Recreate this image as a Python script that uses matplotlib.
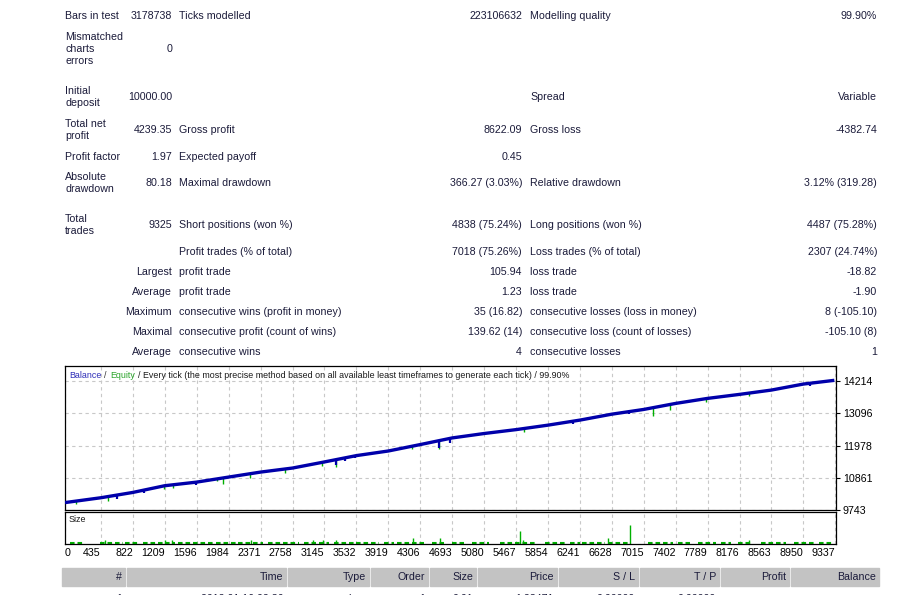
import matplotlib
matplotlib.use('Agg')
import matplotlib.pyplot as plt
from matplotlib.patches import Rectangle
import numpy as np

W, H = 913, 595
FS = 7.7
TXT = '#1b1b3a'

plt.rcParams['font.family'] = ['Liberation Sans', 'DejaVu Sans']

# summary table (left / middle / right column groups)
rowY = [16, 49, 97, 130, 157, 183, 225, 252, 272, 292, 312, 332, 352]
colA_label = ['Bars in test', 'Mismatched\ncharts\nerrors', 'Initial\ndeposit',
              'Total net\nprofit', 'Profit factor', 'Absolute\ndrawdown',
              'Total\ntrades', '', '', '', '', '', '']
colA_value = ['3178738', '0', '10000.00', '4239.35', '1.97', '80.18', '9325',
              '', 'Largest', 'Average', 'Maximum', 'Maximal', 'Average']
colB_label = ['Ticks modelled', '', '', 'Gross profit', 'Expected payoff',
              'Maximal drawdown', 'Short positions (won %)',
              'Profit trades (% of total)', 'profit trade', 'profit trade',
              'consecutive wins (profit in money)',
              'consecutive profit (count of wins)', 'consecutive wins']
colB_value = ['223106632', '', '', '8622.09', '0.45', '366.27 (3.03%)',
              '4838 (75.24%)', '7018 (75.26%)', '105.94', '1.23',
              '35 (16.82)', '139.62 (14)', '4']
colC_label = ['Modelling quality', '', 'Spread', 'Gross loss', '',
              'Relative drawdown', 'Long positions (won %)',
              'Loss trades (% of total)', 'loss trade', 'loss trade',
              'consecutive losses (loss in money)',
              'consecutive loss (count of losses)', 'consecutive losses']
colC_value = ['99.90%', '', 'Variable', '-4382.74', '', '3.12% (319.28)',
              '4487 (75.28%)', '2307 (24.74%)', '-18.82', '-1.90',
              '8 (-105.10)', '-105.10 (8)', '1']

# balance curve, read at the grid lines
balTrade = [0, 435, 822, 1209, 1596, 1984, 2371, 2758, 3145, 3532, 3919, 4306,
            4693, 5080, 5467, 5854, 6241, 6628, 7015, 7402, 7789, 8176, 8563,
            8950, 9325]
balValue = [10000, 10168, 10352, 10585, 10710, 10885, 11058, 11198, 11410,
            11629, 11789, 12012, 12242, 12395, 12530, 12685, 12860, 13066,
            13230, 13439, 13613, 13752, 13902, 14110, 14239]
eqDipTrade = [133, 519, 1196, 1304, 1848, 1920, 2246, 2669, 3116, 3285, 4203,
              4529, 5568, 7126, 7331, 7766, 8285]
eqDipDepth = [90, 170, 120, 100, 90, 200, 140, 150, 120, 240, 110, 270, 110,
              280, 180, 130, 110]
balDipTrade = [628, 954, 1582, 3285, 3394, 3514, 4529, 4662, 6159, 6836, 9034]
balDipDepth = [150, 90, 80, 200, 120, 90, 250, 150, 100, 90, 100]

yTicks = [9743, 10861, 11978, 13096, 14214]
xTicks = [0, 435, 822, 1209, 1596, 1984, 2371, 2758, 3145, 3532, 3919, 4306,
          4693, 5080, 5467, 5854, 6241, 6628, 7015, 7402, 7789, 8176, 8563,
          8950, 9337]

# lot size chart: runs of 0.01 trades and the larger ones
sizeRunStart = [60, 425, 730, 943, 1217, 1369, 1552, 1826, 2100, 2466, 2892,
                3075, 3257, 3531, 3866, 4019, 4445, 4689, 4932, 5267, 5815,
                6120, 6272, 6577, 7063, 7429, 7672, 7947, 8160, 8434, 8830,
                9134]
sizeRunEnd = [243, 700, 882, 1187, 1339, 1522, 1796, 2070, 2405, 2831, 3044,
              3196, 3501, 3805, 3988, 4353, 4597, 4841, 5145, 5693, 6059, 6242,
              6546, 6820, 7368, 7581, 7886, 8069, 8312, 8738, 9104, 9317]
bigTrade = [483, 1208, 1292, 2258, 3007, 3128, 3285, 4215, 4541, 5519, 5555,
            6582, 6848, 8285]
bigSize = [0.02, 0.02, 0.02, 0.02, 0.02, 0.02, 0.02, 0.03, 0.03, 0.06, 0.02,
           0.03, 0.09, 0.02]

# trade list header and first row
headCells = [(62, 125), (127, 286), (288, 369), (371, 428), (430, 476),
             (478, 557), (559, 638), (640, 719), (721, 789), (791, 879)]
headNames = ['#', 'Time', 'Type', 'Order', 'Size', 'Price', 'S / L', 'T / P',
             'Profit', 'Balance']
firstRow = ['1', '2012.01.16 02:36', 'buy', '1', '0.01', '1.28471', '0.00000',
            '0.00000', '', '']


fig = plt.figure(figsize=(W/100, H/100), dpi=100)
fig.patch.set_facecolor('white')


def put(x, y, s, ha='left', color=TXT, fs=FS):
    return fig.text(x/W, 1-y/H, s, ha=ha, va='center', fontsize=fs,
                    color=color, linespacing=1.3)


for i, y in enumerate(rowY):
    if colA_label[i]:
        put(65, y, colA_label[i])
    put(172, y, colA_value[i], ha='right')
    put(179, y, colB_label[i])
    put(522, y, colB_value[i], ha='right')
    put(530, y, colC_label[i])
    put(877, y, colC_value[i], ha='right')

# balance chart
ax1 = fig.add_axes([65/W, 1-510/H, 771/W, 144/H])
ax1.plot(balTrade, balValue, color='#0000aa', lw=2.4, solid_capstyle='butt',
         zorder=3)
eqTop = np.interp(eqDipTrade, balTrade, balValue)
ax1.vlines(eqDipTrade, eqTop - np.array(eqDipDepth), eqTop, color='#00b000',
           lw=1.0, zorder=2)
balTop = np.interp(balDipTrade, balTrade, balValue)
ax1.vlines(balDipTrade, balTop - np.array(balDipDepth), balTop,
           color='#0000aa', lw=1.6, zorder=3)
ax1.set_xlim(30, 9345)
ax1.set_ylim(9743, 14736)
ax1.set_xticks(xTicks)
ax1.set_yticks(yTicks)
ax1.set_xticklabels([])
ax1.yaxis.tick_right()
ax1.tick_params(axis='y', length=3, width=0.8, pad=2, labelsize=FS,
                labelcolor='black')
ax1.tick_params(axis='x', length=0)
ax1.grid(True, color='#c8c8c8', lw=0.8, linestyle=(0, (3, 3)))
for sp in ax1.spines.values():
    sp.set_linewidth(0.9)

# coloured title pieces laid side by side, 3 px for each space
renderer = fig.canvas.get_renderer()
x0 = 69
for s, c in [('Balance', '#2e2eb8'), ('/', '#333333'), ('Equity', '#2aa52a'),
             ('/ Every tick (the most precise method based on all available '
              'least timeframes to generate each tick) / 99.90%', '#1a1a1a')]:
    t = put(x0, 375, s, color=c, fs=6.4)
    x0 += t.get_window_extent(renderer).width + 3

# size chart
ax2 = fig.add_axes([65/W, 1-544/H, 771/W, 32/H])
ax2.hlines([0.006]*len(sizeRunStart), sizeRunStart, sizeRunEnd,
           color='#00b000', lw=1.5, linestyle=(0, (2.2, 1.4)))
ax2.vlines(bigTrade, 0, bigSize, color='#00b000', lw=1.0)
ax2.set_xlim(30, 9345)
ax2.set_ylim(0, 0.15)
ax2.set_yticks([])
ax2.set_xticks(xTicks)
ax2.set_xticklabels([str(v) for v in xTicks])
ax2.tick_params(axis='x', length=0, pad=3, labelsize=FS, labelcolor='black')
for lab in ax2.get_xticklabels():
    lab.set_horizontalalignment('right')
ax2.get_xticklabels()[0].set_horizontalalignment('left')
ax2.grid(True, axis='x', color='#c8c8c8', lw=0.8, linestyle=(0, (3, 3)))
for sp in ax2.spines.values():
    sp.set_linewidth(0.9)
put(69, 520, 'Size', color='#1a1a1a', fs=6.4)

# trade list header, first row is cut by the page edge as in the report
for (a, b), name, val in zip(headCells, headNames, firstRow):
    fig.patches.append(Rectangle((a/W, 1-586/H), (b-a)/W, 18/H,
                                 transform=fig.transFigure, color='#c3c3c3',
                                 zorder=0))
    put(b-3, 577, name, ha='right')
    if val:
        put(b-3, 599, val, ha='right')

fig.savefig('out.png', dpi=100)
